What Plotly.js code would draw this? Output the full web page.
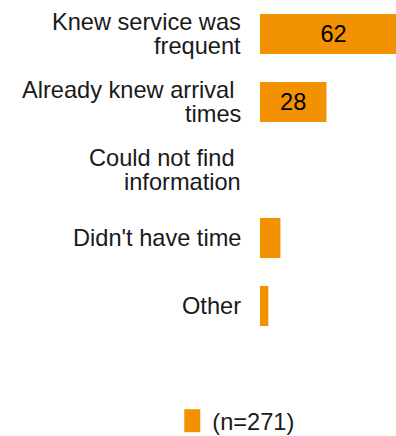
<!DOCTYPE html>
<html>
<head>
<meta charset="utf-8">
<script src="https://cdn.plot.ly/plotly-3.0.1.min.js"></script>
<style>html,body{margin:0;padding:0;background:#fff;}#chart{width:396px;height:436px;}</style>
</head>
<body>
<div id="chart"></div>
<script>
// Data
const categories = [
  "Knew service was<br>frequent",
  "Already knew arrival\u00a0<br>times",
  "Could not find\u00a0<br>information",
  "Didn't have time",
  "Other"
];
const values = [62, 28, 0, 8.6, 3.5];
const barLabels = ["62", "28", "", "", ""];
const seriesName = "(n=271)";

const FONT = "Liberation Sans, Arial, sans-serif";
const FS = 23.6;
const ORANGE = "#F29200";

const trace = {
  type: "bar",
  orientation: "h",
  y: categories,
  x: values,
  name: seriesName,
  marker: {color: ORANGE, line: {width: 0}},
  text: barLabels,
  textposition: "inside",
  insidetextanchor: "middle",
  insidetextfont: {family: FONT, size: FS, color: "#000"},
  hoverinfo: "none",
  showlegend: true,
  cliponaxis: true
};

// Category labels as annotations (tight line spacing)
const annotations = [];
const lineGap = 24.4;
categories.forEach(function (cat) {
  const lines = cat.split("<br>");
  const n = lines.length;
  lines.forEach(function (ln, j) {
    annotations.push({
      xref: "paper", yref: "y",
      x: 0, y: cat,
      xanchor: "right", yanchor: "middle",
      xshift: -17,
      yshift: ((n - 1) / 2 - j) * lineGap,
      text: ln,
      showarrow: false,
      font: {family: FONT, size: FS, color: "#1a1a1a"}
    });
  });
});

const layout = {
  width: 396, height: 436,
  margin: {l: 260, r: 0, t: 0, b: 96, pad: 0, autoexpand: false},
  paper_bgcolor: "#fff", plot_bgcolor: "#fff",
  font: {family: FONT, size: FS, color: "#1a1a1a"},
  bargap: 0.41,
  xaxis: {range: [0, 57.3], visible: false, fixedrange: true},
  yaxis: {
    type: "category",
    categoryorder: "array", categoryarray: categories,
    autorange: "reversed",
    showticklabels: false, showgrid: false, zeroline: false, showline: false, ticks: "",
    fixedrange: true
  },
  showlegend: true,
  legend: {
    orientation: "h",
    x: -0.645, xanchor: "left",
    y: -0.2824, yanchor: "bottom",
    font: {family: FONT, size: FS, color: "#1a1a1a"},
    bgcolor: "rgba(0,0,0,0)",
    borderwidth: 0
  },
  annotations: annotations
};

Plotly.newPlot("chart", [trace], layout, {displayModeBar: false, staticPlot: true}).then(function (gd) {
  gd.querySelectorAll(".legendpoints path").forEach(function (p) {
    p.setAttribute("d", "M8,11.5H-8V-11.5H8Z");
  });
  // nudge legend down slightly toward the reference position
  const lg = gd.querySelector(".legend");
  if (lg) {
    const t = lg.getAttribute("transform") || "";
    const m = t.match(/translate\(\s*([-\d.]+)[ ,]+([-\d.]+)\s*\)/);
    if (m) lg.setAttribute("transform", "translate(" + m[1] + "," + (parseFloat(m[2]) + 7) + ")");
  }
});
</script>
</body>
</html>
